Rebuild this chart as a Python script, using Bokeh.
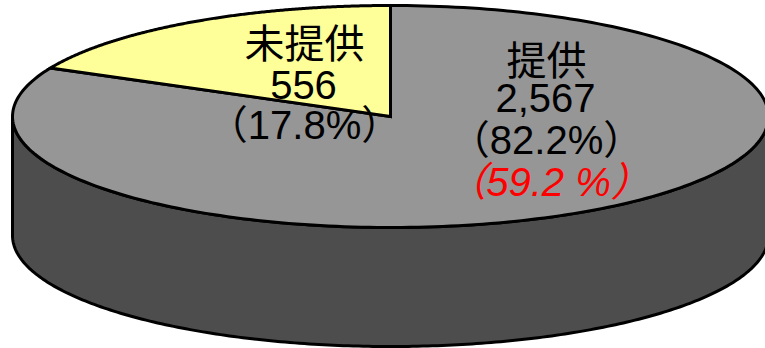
import numpy as np
from bokeh.core.properties import value
from bokeh.embed import file_html
from bokeh.models import Range1d
from bokeh.plotting import figure
from bokeh.resources import INLINE

# Survey responses
categories = ["提供", "未提供"]
counts = [2567, 556]
share_labels = ["（82.2%）", "（17.8%）"]
extra_share_label = "（59.2 %）"
count_labels = ["2,567", "556"]

# Disc geometry, in page pixels
CX, CY = 390, 116
RX, RY = 378, 111
DEPTH = 119
FONT = value("Liberation Sans, 'Noto Sans CJK JP', sans-serif")

GREY_TOP = "#969696"
GREY_SIDE = "#4d4d4d"
YELLOW = "#ffff99"

p = figure(width=765, height=348, output_backend="svg", toolbar_location=None,
           x_range=Range1d(0, 765), y_range=Range1d(348, 0),
           min_border=0, outline_line_color=None, background_fill_color="white",
           border_fill_color="white")
p.axis.visible = False
p.grid.visible = False


def rim(start_deg, end_deg, n=240):
    # Angles run clockwise from the top of the flattened disc
    t = np.radians(np.linspace(start_deg, end_deg, n))
    return CX + RX * np.sin(t), CY - RY * np.cos(t)


total = sum(counts)
small_sweep = 360 * counts[1] / total

# Side wall: lower half of the rim and the same arc pushed down by the depth
fx, fy = rim(90, 270)
p.patch(np.r_[fx, fx[::-1]], np.r_[fy, fy[::-1] + DEPTH],
        fill_color=GREY_SIDE, line_color="black", line_width=3, line_join="round")

# Top face, one wedge per category
for start, end, colour in [(0, 360 - small_sweep, GREY_TOP), (360 - small_sweep, 360, YELLOW)]:
    wx, wy = rim(start, end)
    p.patch(np.r_[CX, wx], np.r_[CY, wy], fill_color=colour,
            line_color="black", line_width=3, line_join="miter")


def label(x, y, text, colour="black", style="normal"):
    p.text([x], [y], text=[text], text_font=FONT, text_font_size="40px",
           text_color=colour, text_font_style=style,
           text_align="center", text_baseline="middle")


label(546, 60, categories[0])
label(545, 97, count_labels[0])
label(546, 139, share_labels[0])
label(548, 181, extra_share_label, colour="#ff0000", style="italic")

label(304, 43, categories[1])
label(303, 84, count_labels[1])
label(304, 124, share_labels[1])

open("out.html", "w").write(file_html(p, INLINE))
